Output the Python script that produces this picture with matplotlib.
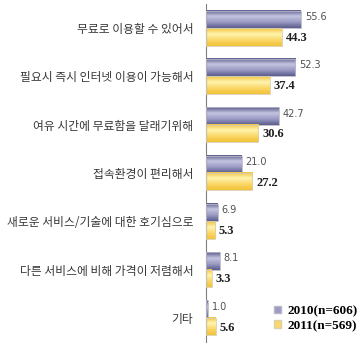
import numpy as np
import matplotlib.pyplot as plt
from matplotlib.patches import Patch
from matplotlib.colors import LinearSegmentedColormap

plt.rcParams['font.family'] = ['Noto Sans CJK KR', 'DejaVu Sans']

reasons = [
    "무료로 이용할 수 있어서",
    "필요시 즉시 인터넷 이용이 가능해서",
    "여유 시간에 무료함을 달래기위해",
    "접속환경이 편리해서",
    "새로운 서비스/기술에 대한 호기심으로",
    "다른 서비스에 비해 가격이 저렴해서",
    "기타",
]
vals_2010 = [55.6, 52.3, 42.7, 21.0, 6.9, 8.1, 1.0]
vals_2011 = [44.3, 37.4, 30.6, 27.2, 5.3, 3.3, 5.6]
series_names = ["2010(n=606)", "2011(n=569)"]

purple = LinearSegmentedColormap.from_list("p", ["#5c5c8c", "#c4c4e0", "#9a9ac4", "#5c5c8c"])
yellow = LinearSegmentedColormap.from_list("y", ["#f2c23a", "#fff4b0", "#fbd868", "#f2c23a"])


def shade(ax, bars, cmap):
    # paint a vertical gradient inside each bar
    grad = np.linspace(0, 1, 64).reshape(-1, 1)
    for b in bars:
        x0, y0, w, h = b.get_x(), b.get_y(), b.get_width(), b.get_height()
        ax.imshow(grad, cmap=cmap, aspect='auto', extent=(x0, x0 + w, y0 + h, y0),
                  zorder=2, interpolation='bilinear')
        b.set_facecolor('none')


fig = plt.figure(figsize=(3.63, 3.47), dpi=100)
ax = fig.add_axes([206 / 363, 5 / 347, 157 / 363, 338 / 347])

y = np.arange(len(reasons))
h = 0.36
b1 = ax.barh(y - h / 2, vals_2010, height=h, edgecolor='#b8b8c8', linewidth=0.6, zorder=3)
b2 = ax.barh(y + h / 2, vals_2011, height=h, edgecolor='#d8d0b0', linewidth=0.6, zorder=3)
shade(ax, b1, purple)
shade(ax, b2, yellow)

for v, yy in zip(vals_2010, y - h / 2):
    ax.text(v + 2.2, yy - 0.05, f"{v:.1f}", va='center', ha='left', fontsize=7,
            color='#505050', family=['DejaVu Sans'])
for v, yy in zip(vals_2011, y + h / 2):
    ax.text(v + 2.2, yy + 0.02, f"{v:.1f}", va='center', ha='left', fontsize=9,
            color='#202020', fontweight='bold', family=['Liberation Serif'])

ax.set_xlim(0, 91.9)
ax.set_ylim(len(reasons) - 0.5, -0.5)
ax.set_yticks(y)
ax.set_yticklabels(reasons, fontsize=8.5, color='#383838')
ax.tick_params(axis='y', length=0, pad=9)
ax.set_xticks([])
for s in ['top', 'right', 'bottom']:
    ax.spines[s].set_visible(False)
ax.spines['left'].set_color('#808080')
ax.spines['left'].set_linewidth(0.8)

handles = [Patch(facecolor='#9a9ac4', edgecolor='#b8b8c8'),
           Patch(facecolor='#fbd868', edgecolor='#d8d0b0')]
ax.legend(handles, series_names, loc='lower right', frameon=False,
          bbox_to_anchor=(1.04, -0.005), handlelength=0.55, handleheight=0.55,
          handletextpad=0.45, labelspacing=0.2,
          prop={'family': 'Liberation Serif', 'weight': 'bold', 'size': 9.5})

fig.savefig("out.png", dpi=100)
